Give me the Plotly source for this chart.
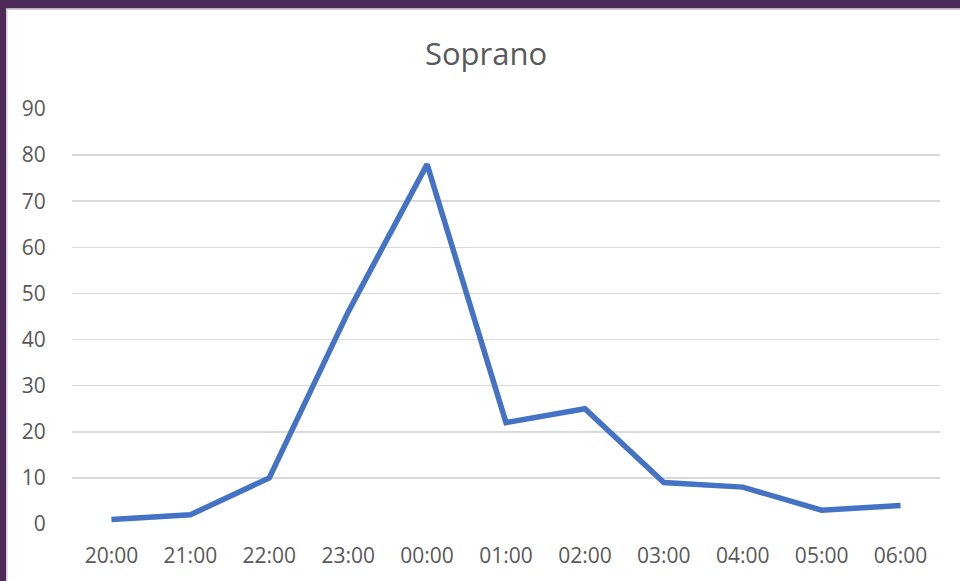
import plotly.graph_objects as go

categories = ["20:00", "21:00", "22:00", "23:00", "00:00", "01:00", "02:00", "03:00", "04:00", "05:00", "06:00"]
values = [1, 2, 10, 46, 78, 22, 25, 9, 8, 3, 4]
y_ticks = [0, 10, 20, 30, 40, 50, 60, 70, 80, 90]

W, H = 960, 581
ML, MR, MT, MB = 72, 20, 109, 57
PW, PH = W - ML - MR, H - MT - MB

def px_x(px):
    return (px - ML) / PW

def px_y(py):
    return (H - MB - py) / PH

fig = go.Figure()
fig.add_trace(go.Scatter(
    x=list(range(len(categories))), y=values, mode="lines",
    line=dict(color="#4472C4", width=5.5), hoverinfo="skip", showlegend=False,
))

font_family = "Open Sans, sans-serif"
fig.update_layout(
    width=W, height=H,
    margin=dict(l=ML, r=MR, t=MT, b=MB, pad=0),
    paper_bgcolor="white", plot_bgcolor="white",
    title=dict(text="Soprano", x=486 / W, xanchor="center", xref="container", y=1 - 54 / H, yanchor="middle",
               yref="container", font=dict(family=font_family, size=31, color="#595959")),
    xaxis=dict(
        tickmode="array", tickvals=list(range(len(categories))), ticktext=categories,
        range=[-0.5, len(categories) - 0.5], showgrid=False, zeroline=False, showline=False,
        ticks="outside", ticklen=13, tickcolor="rgba(0,0,0,0)",
        tickfont=dict(family=font_family, size=21, color="#595959"),
    ),
    yaxis=dict(
        tickmode="array", tickvals=y_ticks, range=[0, 90],
        showgrid=True, gridcolor="#D9D9D9", gridwidth=1.5, zeroline=False, showline=False,
        ticks="outside", ticklen=21, tickcolor="rgba(0,0,0,0)",
        tickfont=dict(family=font_family, size=21, color="#595959"),
    ),
)

purple = "#4C2B59"
# left border
fig.add_shape(type="rect", xref="paper", yref="paper", x0=px_x(-2), x1=px_x(6), y0=px_y(H + 2), y1=px_y(-2),
              fillcolor=purple, line=dict(width=0), layer="above")
fig.add_shape(type="rect", xref="paper", yref="paper", x0=px_x(6), x1=px_x(7.5), y0=px_y(H + 2), y1=px_y(8.5),
              fillcolor="#D0CCD2", line=dict(width=0), layer="above")
# top border
fig.add_shape(type="rect", xref="paper", yref="paper", x0=px_x(-2), x1=px_x(W + 2), y0=px_y(8.5), y1=px_y(-2),
              fillcolor=purple, line=dict(width=0), layer="above")
fig.add_shape(type="rect", xref="paper", yref="paper", x0=px_x(6), x1=px_x(W + 2), y0=px_y(10), y1=px_y(8.5),
              fillcolor="#D0CCD2", line=dict(width=0), layer="above")

fig.write_html("out.html", config={"displayModeBar": False, "staticPlot": True},
               post_script="document.body.style.margin='0';document.body.style.overflow='hidden';")
